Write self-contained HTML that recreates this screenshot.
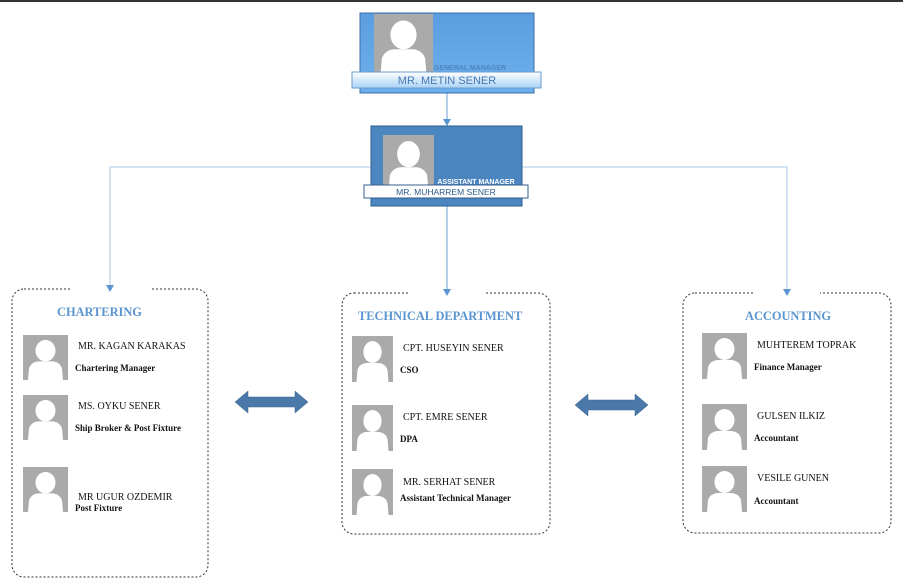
<!DOCTYPE html>
<html><head><meta charset="utf-8"><style>
html,body{margin:0;padding:0;background:#fff;}
svg{display:block;}
.n{font-family:"Liberation Serif",serif;font-size:10px;fill:#111;}
.r{font-family:"Liberation Serif",serif;font-size:9px;font-weight:bold;fill:#111;}
.h{font-family:"Liberation Serif",serif;font-size:12.4px;font-weight:bold;fill:#5b95cf;}
</style></head><body>
<svg width="903" height="588" viewBox="0 0 903 588" xmlns="http://www.w3.org/2000/svg">
<defs>
<symbol id="p" viewBox="0 0 45 46" preserveAspectRatio="none">
<rect width="45" height="46" fill="#aaaaaa"/>
<ellipse cx="22.5" cy="16" rx="10" ry="11" fill="#fff"/>
<path d="M5 46 L6 34 Q8 28 15 27 L30 27 Q37 28 39 34 L40 46 Z" fill="#fff"/>
</symbol>
<linearGradient id="g1" x1="0" y1="0" x2="0" y2="1"><stop offset="0" stop-color="#5a9ee0"/><stop offset="1" stop-color="#6cb0ee"/></linearGradient>
<linearGradient id="g2" x1="0" y1="0" x2="0" y2="1"><stop offset="0" stop-color="#ffffff"/><stop offset="1" stop-color="#a9d2f5"/></linearGradient>
</defs>
<rect x="0" y="0" width="903" height="2" fill="#333"/>
<!-- connectors -->
<line x1="447" y1="93" x2="447" y2="122" stroke="#6c9fd4" stroke-width="1"/>
<path d="M443,119 L451,119 L447,126 Z" fill="#5b95cf"/>
<line x1="110" y1="167" x2="787" y2="167" stroke="#a9c8e6" stroke-width="1"/>
<line x1="110" y1="167" x2="110" y2="289" stroke="#a9c8e6"/>
<line x1="787" y1="167" x2="787" y2="293" stroke="#a9c8e6"/>
<line x1="447" y1="206" x2="447" y2="293" stroke="#6c9fd4"/>
<!-- GM -->
<rect x="360" y="13" width="174" height="80" fill="url(#g1)" stroke="#3f6fa5"/>
<use href="#p" x="374" y="14" width="59" height="60"/>
<text x="470" y="70" font-family="Liberation Sans,sans-serif" font-size="7" font-weight="bold" fill="#4f86c0" text-anchor="middle">GENERAL MANAGER</text>
<rect x="352" y="72" width="189" height="16" fill="url(#g2)" stroke="#6a9ccd"/>
<text x="447" y="84" font-family="Liberation Sans,sans-serif" font-size="11" fill="#4678b2" text-anchor="middle">MR. METIN SENER</text>
<!-- AM -->
<rect x="371" y="126" width="151" height="80" fill="#4b86c0" stroke="#2d5c8e"/>
<use href="#p" x="383" y="135" width="51" height="55"/>
<text x="476" y="184" font-family="Liberation Sans,sans-serif" font-size="7" font-weight="bold" fill="#fff" text-anchor="middle">ASSISTANT MANAGER</text>
<rect x="364" y="185" width="164" height="13" fill="#fff" stroke="#345f8f"/>
<text x="446" y="195" font-family="Liberation Sans,sans-serif" font-size="8.5" fill="#2e5b8c" text-anchor="middle">MR. MUHARREM SENER</text>
<!-- boxes -->
<rect x="12" y="289" width="196" height="288" rx="12" fill="none" stroke="#333" stroke-dasharray="2,2"/>
<rect x="342" y="293" width="208" height="241" rx="12" fill="none" stroke="#333" stroke-dasharray="2,2"/>
<rect x="683" y="293" width="208" height="240" rx="12" fill="none" stroke="#333" stroke-dasharray="2,2"/>
<rect x="70" y="285" width="80" height="8" fill="#fff"/>
<rect x="410" y="288" width="75" height="8" fill="#fff"/>
<rect x="755" y="288" width="65" height="8" fill="#fff"/>
<line x1="110" y1="280" x2="110" y2="287" stroke="#a9c8e6"/>
<path d="M106,285 L114,285 L110,292 Z" fill="#5b95cf"/>
<line x1="447" y1="285" x2="447" y2="291" stroke="#6c9fd4"/>
<path d="M443,289 L451,289 L447,296 Z" fill="#5b95cf"/>
<line x1="787" y1="285" x2="787" y2="291" stroke="#a9c8e6"/>
<path d="M783,289 L791,289 L787,296 Z" fill="#5b95cf"/>
<!-- chartering -->
<text x="57" y="316" class="h">CHARTERING</text>
<use href="#p" x="23" y="335" width="45" height="45"/>
<text x="78" y="349" class="n">MR. KAGAN KARAKAS</text>
<text x="75" y="371" class="r">Chartering Manager</text>
<use href="#p" x="23" y="395" width="45" height="45"/>
<text x="78" y="409" class="n">MS. OYKU SENER</text>
<text x="75" y="431" class="r">Ship Broker &amp; Post Fixture</text>
<use href="#p" x="23" y="467" width="45" height="45"/>
<text x="78" y="500" class="n">MR UGUR OZDEMIR</text>
<text x="75" y="511" class="r">Post Fixture</text>
<!-- technical -->
<text x="358" y="320" class="h">TECHNICAL DEPARTMENT</text>
<use href="#p" x="352" y="336" width="41" height="46"/>
<text x="403" y="351" class="n">CPT. HUSEYIN SENER</text>
<text x="400" y="373" class="r">CSO</text>
<use href="#p" x="352" y="405" width="41" height="46"/>
<text x="403" y="420" class="n">CPT. EMRE SENER</text>
<text x="400" y="442" class="r">DPA</text>
<use href="#p" x="352" y="469" width="41" height="46"/>
<text x="403" y="485" class="n">MR. SERHAT SENER</text>
<text x="400" y="501" class="r">Assistant Technical Manager</text>
<!-- accounting -->
<text x="745" y="320" class="h">ACCOUNTING</text>
<use href="#p" x="702" y="333" width="45" height="46"/>
<text x="757" y="348" class="n">MUHTEREM TOPRAK</text>
<text x="754" y="370" class="r">Finance Manager</text>
<use href="#p" x="702" y="404" width="45" height="46"/>
<text x="757" y="419" class="n">GULSEN ILKIZ</text>
<text x="754" y="441" class="r">Accountant</text>
<use href="#p" x="702" y="466" width="45" height="46"/>
<text x="757" y="481" class="n">VESILE GUNEN</text>
<text x="754" y="504" class="r">Accountant</text>
<!-- double arrows -->
<path d="M235,402 L248,391 L248,397 L295,397 L295,391 L308,402 L295,413 L295,407 L248,407 L248,413 Z" fill="#4a78a8" stroke="#3a6590" stroke-width="0.5"/>
<path d="M575,405 L588,394 L588,400 L635,400 L635,394 L648,405 L635,416 L635,410 L588,410 L588,416 Z" fill="#4a78a8" stroke="#3a6590" stroke-width="0.5"/>
</svg>
</body></html>
